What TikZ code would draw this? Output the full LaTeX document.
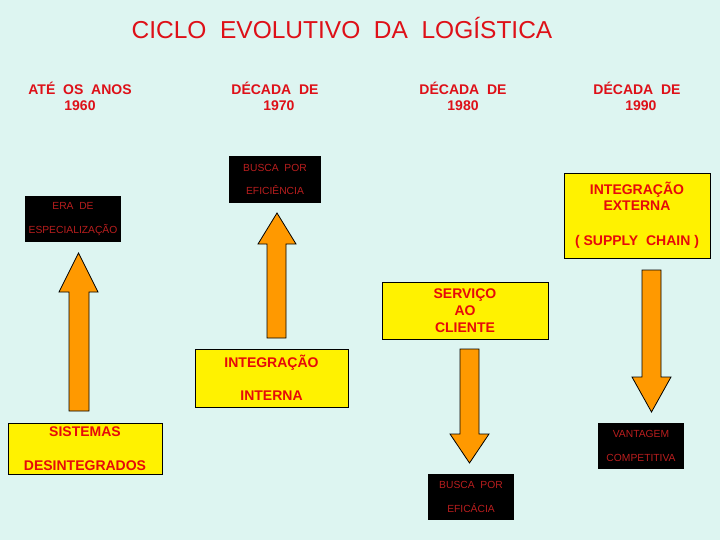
\documentclass[tikz,border=0pt]{standalone}
\usepackage{fontspec}
\setmainfont{Liberation Sans}
\definecolor{bgc}{RGB}{221,245,241}
\definecolor{titlered}{RGB}{222,16,24}
\definecolor{boxred}{RGB}{230,10,10}
\definecolor{dimred}{RGB}{185,30,30}
\definecolor{arroworange}{RGB}{255,153,0}
\tikzset{
  ybox/.style={draw=black, fill=yellow, line width=0.9pt, inner sep=0pt, align=center,
    text=boxred, font=\bfseries\fontsize{14}{17}\selectfont},
  kbox/.style={fill=black, inner sep=0pt, align=center,
    text=dimred, font=\fontsize{10.3}{23.5}\selectfont},
  header/.style={align=center, text=titlered, font=\bfseries\fontsize{14}{16}\selectfont},
  blockarrow/.style={draw=black, fill=arroworange, line width=0.8pt, line join=miter},
}
\begin{document}
\begin{tikzpicture}[x=1pt,y=-1pt]
\useasboundingbox (0,0) rectangle (720,540);
\fill[bgc] (0,0) rectangle (720,540);

% title
\node[text=titlered, font=\fontsize{24.5}{28}\selectfont] (title) at (342,27.5) {CICLO\ \ EVOLUTIVO\ \ DA\ \ LOGÍSTICA};

% headers
\node[header] (h60) at (80,96) {ATÉ\ \ OS\ \ ANOS\\1960};
\node[header] (h70) at (275,96) {DÉCADA\ \ DE\\\ \ 1970};
\node[header] (h80) at (463,96) {DÉCADA\ \ DE\\1980};
\node[header] (h90) at (637,96) {DÉCADA\ \ DE\\\ \ 1990};

% black boxes
\node[kbox, minimum width=92, minimum height=47] (efic) at (275,179.5) {BUSCA\ \ POR\\EFICIÊNCIA};
\node[kbox, minimum width=96, minimum height=46] (era) at (73,219) {ERA\ \ DE\\ESPECIALIZAÇÃO};
\node[kbox, minimum width=86, minimum height=46] (eficacia) at (471,497) {BUSCA\ \ POR\\EFICÁCIA};
\node[kbox, minimum width=86, minimum height=46] (vant) at (641,446) {VANTAGEM\\COMPETITIVA};

% yellow boxes
\node[ybox, minimum width=146, minimum height=85] (ext) at (637,215.5)
  {INTEGRAÇÃO\\[-1pt]EXTERNA\\[18pt]( SUPPLY\ \ CHAIN )};
\node[ybox, minimum width=166, minimum height=57] (serv) at (465,310.5)
  {SERVIÇO\\AO\\CLIENTE};
\node[ybox, minimum width=153, minimum height=58] (intn) at (271.5,378)
  {INTEGRAÇÃO\\[16pt]INTERNA};
\node[ybox, minimum width=154, minimum height=51] (sist) at (85,448.5)
  {SISTEMAS\\[17pt]DESINTEGRADOS};

% block arrows (up)
\draw[blockarrow] (69,411) -- (69,292) -- (59,292) -- (78.5,253) -- (98,292) -- (89,292) -- (89,411) -- cycle;
\draw[blockarrow] (267,338) -- (267,244) -- (258,244) -- (277,213) -- (296,244) -- (286,244) -- (286,338) -- cycle;
% block arrows (down)
\draw[blockarrow] (460,349) -- (460,434) -- (450,434) -- (469.5,463) -- (489,434) -- (479,434) -- (479,349) -- cycle;
\draw[blockarrow] (642,270) -- (642,377) -- (632,377) -- (651.5,412) -- (671,377) -- (661,377) -- (661,270) -- cycle;
\end{tikzpicture}
\end{document}
